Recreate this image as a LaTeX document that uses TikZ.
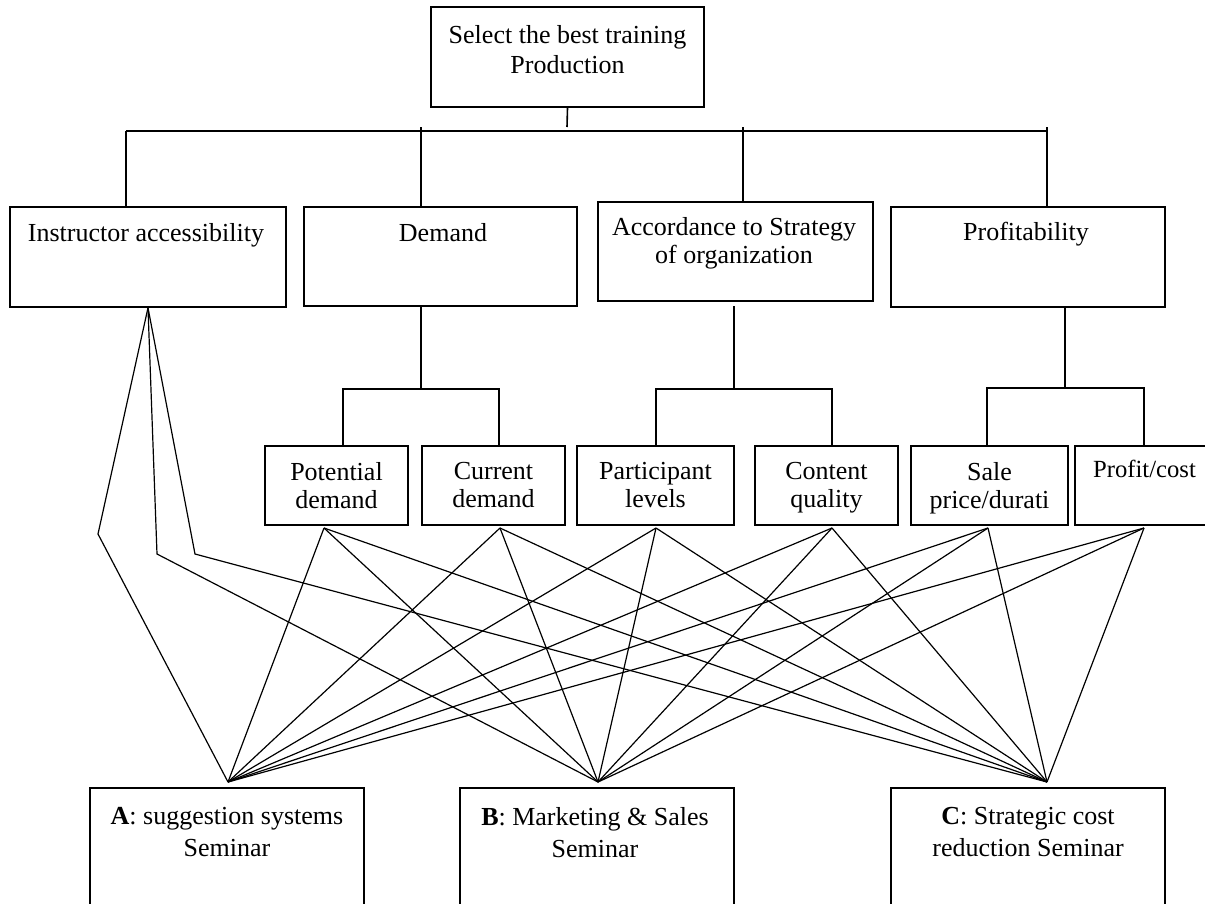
\documentclass[tikz,border=0pt]{standalone}
\usepackage{fontspec}
\setmainfont{Liberation Serif}
\usetikzlibrary{fit}
\begin{document}
\begin{tikzpicture}[x=0.75pt,y=-0.75pt,
  box/.style={draw, line width=1.2pt, inner sep=0pt, rectangle},
  txt/.style={inner sep=0pt, align=center, anchor=north, font=\fontsize{19.5}{21}\selectfont},
  tree/.style={line width=1.2pt},
  fan/.style={line width=0.9pt, line join=miter}]
\useasboundingbox (0,0) rectangle (1205,903);
\clip (0,0) rectangle (1205,903);

% ---- boxes ----
\node[box, fit={(431,7)(704,107)}] (top) {};
\node[txt, font=\fontsize{19.5}{22.5}\selectfont] (topT) at (567.5,25) {Select the best training\\Production};

\node[box, fit={(10,207)(286,307)}] (ins) {};
\node[txt] (insT) at (146,223) {Instructor accessibility};
\node[box, fit={(304,207)(577,306)}] (dem) {};
\node[txt] (demT) at (443,223) {Demand};
\node[box, fit={(598,202)(873,301)}] (acc) {};
\node[txt] (accT) at (734,217) {Accordance to Strategy\\of organization};
\node[box, fit={(891,207)(1165,307)}] (pro) {};
\node[txt] (proT) at (1026,222) {Profitability};

\node[box, fit={(265,446)(408,525)}] (pot) {};
\node[txt] (potT) at (336.5,462) {Potential\\demand};
\node[box, fit={(422,446)(565,525)}] (cur) {};
\node[txt] (curT) at (493.5,462) {Current\\demand};
\node[box, fit={(577,446)(734,525)}] (par) {};
\node[txt] (parT) at (655.5,462) {Participant\\levels};
\node[box, fit={(755,446)(898,525)}] (con) {};
\node[txt] (conT) at (826.5,462) {Content\\quality};
\node[box, fit={(911,446)(1068,525)}] (sal) {};
\node[txt] (salT) at (989.5,462) {Sale\\price/durati};
\node[box, fit={(1075,446)(1215,525)}] (pcost) {};
\node[txt, font=\fontsize{18.5}{21}\selectfont] (pcostT) at (1144.5,460) {Profit/cost};

\node[box, fit={(90,788)(364,915)}] (A) {};
\node[txt, font=\fontsize{19.5}{24}\selectfont] (AT) at (227,807) {\textbf{A}: suggestion systems\\Seminar};
\node[box, fit={(460,788)(734,915)}] (B) {};
\node[txt, font=\fontsize{19.5}{24}\selectfont] (BT) at (595,807) {\textbf{B}: Marketing \& Sales\\Seminar};
\node[box, fit={(891,788)(1165,915)}] (C) {};
\node[txt, font=\fontsize{19.5}{24}\selectfont] (CT) at (1028,807) {\textbf{C}: Strategic cost\\reduction Seminar};

% ---- tree connectors ----
\coordinate (busL) at (126,131);
\coordinate (busR) at (1047,131);
\draw[tree] (top.south) -- (567,127);
\draw[tree] (busL) -- (busR);
\draw[tree] (busL) -- (busL |- ins.north);
\draw[tree] (421,127) -- (421,131 |- dem.north);
\draw[tree] (743,127) -- (743,131 |- acc.north);
\draw[tree] (1047,127) -- (busR |- pro.north);

\draw[tree] (421,131 |- dem.south) -- (421,389);
\draw[tree] (343,446 |- pot.north) -- (343,389) -- (499,389) -- (499,446 |- cur.north);
\draw[tree] (734,306) -- (734,389);
\draw[tree] (656,446 |- par.north) -- (656,389) -- (832,389) -- (832,446 |- con.north);
\draw[tree] (1065,131 |- pro.south) -- (1065,388);
\draw[tree] (987,446 |- sal.north) -- (987,388) -- (1144,388) -- (1144,446 |- pcost.north);

% ---- fan connectors ----
\coordinate (fA) at (228,782);
\coordinate (fB) at (598,782);
\coordinate (fC) at (1047,782);
\coordinate (potO) at (324,528);
\coordinate (curO) at (500,528);
\coordinate (parO) at (656,528);
\coordinate (conO) at (832,528);
\coordinate (salO) at (988,528);
\coordinate (pcostO) at (1144,528);
\coordinate (bend1) at (98,534);
\coordinate (bend2) at (157,554);
\coordinate (bend3) at (195,554);

\foreach \s in {potO,curO,parO,conO,salO,pcostO}{
  \foreach \t in {fA,fB,fC}{
    \draw[fan] (\s) -- (\t);
  }
}
\draw[fan] (ins.south) -- (bend1) -- (fA);
\draw[fan] (ins.south) -- (bend2) -- (fB);
\draw[fan] (ins.south) -- (bend3) -- (fC);
\end{tikzpicture}
\end{document}
